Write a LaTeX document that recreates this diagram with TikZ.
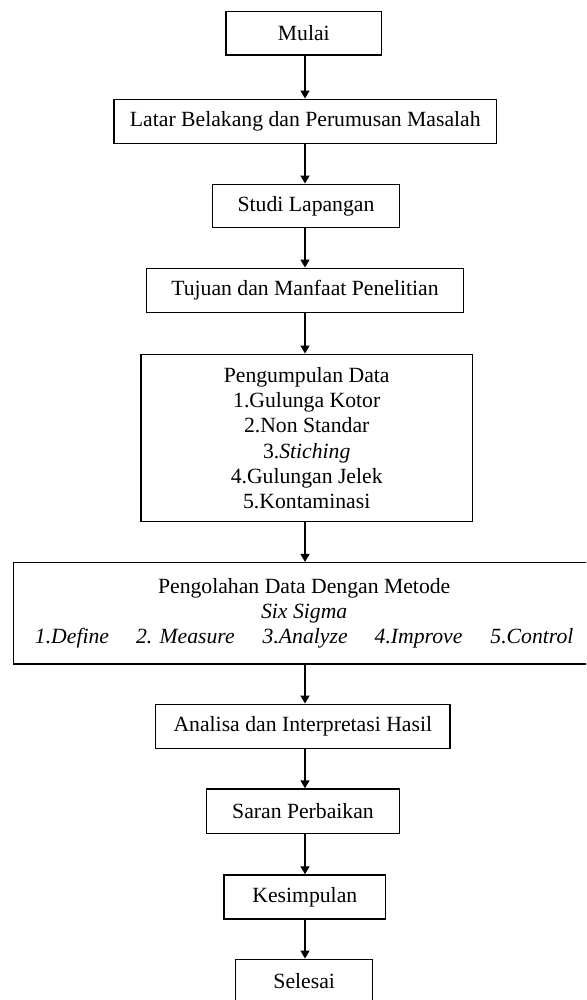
\documentclass[tikz,border=0pt]{standalone}
\usepackage{fontspec}
\setmainfont{Liberation Serif}
\usetikzlibrary{arrows.meta}
\begin{document}
\begin{tikzpicture}[x=1pt,y=-1pt,
  box/.style={draw=black, line width=1.5pt, rectangle, inner sep=0pt, align=center,
    font=\fontsize{21.7pt}{25.3pt}\selectfont},
  flow/.style={draw=black, line width=1.4pt, -{Triangle[length=8pt,width=9pt]}}]
\useasboundingbox (0,0) rectangle (586,1000);
\clip (0,0) rectangle (586,1000);
\coordinate (ax) at (305,0);
% process steps
\node[box, minimum width=155.7pt, minimum height=43.3pt] (mulai) at (303.8,33.3) {Mulai};
\node[box, minimum width=382.7pt, minimum height=44pt] (latar) at (305.3,121.3) {Latar Belakang dan Perumusan Masalah};
\node[box, minimum width=186.7pt, minimum height=43.4pt] (studi) at (306,206) {Studi Lapangan};
\node[box, minimum width=316.7pt, minimum height=44pt] (tujuan) at (305,290.3) {Tujuan dan Manfaat Penelitian};
\node[box, minimum width=331.3pt, minimum height=167.4pt] (kumpul) at (306.7,438) {Pengumpulan Data\\1.Gulunga Kotor\\2.Non Standar\\3.\textit{Stiching}\\4.Gulungan Jelek\\5.Kontaminasi};
\node[box, minimum width=581.7pt, minimum height=101.3pt] (olah) at (304.2,613.3) {Pengolahan Data Dengan Metode\\\textit{Six Sigma}\\\textit{1.Define\hspace{27pt}2. Measure\hspace{28pt}3.Analyze\hspace{27pt}4.Improve\hspace{28pt}5.Control}};
\node[box, minimum width=294.3pt, minimum height=44pt] (analisa) at (302.8,726.3) {Analisa dan Interpretasi Hasil};
\node[box, minimum width=192.7pt, minimum height=44.3pt] (saran) at (303,811.2) {Saran Perbaikan};
\node[box, minimum width=161.7pt, minimum height=44pt] (simpul) at (304.8,897) {Kesimpulan};
\node[box, minimum width=137pt, minimum height=44pt] (selesai) at (304.2,981.3) {Selesai};
% connectors
\draw[flow] (mulai.south -| ax) -- (latar.north -| ax);
\draw[flow] (latar.south -| ax) -- (studi.north -| ax);
\draw[flow] (studi.south -| ax) -- (tujuan.north -| ax);
\draw[flow] (tujuan.south -| ax) -- (kumpul.north -| ax);
\draw[flow] (kumpul.south -| ax) -- (olah.north -| ax);
\draw[flow] (olah.south -| ax) -- (analisa.north -| ax);
\draw[flow] (analisa.south -| ax) -- (saran.north -| ax);
\draw[flow] (saran.south -| ax) -- (simpul.north -| ax);
\draw[flow] (simpul.south -| ax) -- (selesai.north -| ax);
\end{tikzpicture}
\end{document}
